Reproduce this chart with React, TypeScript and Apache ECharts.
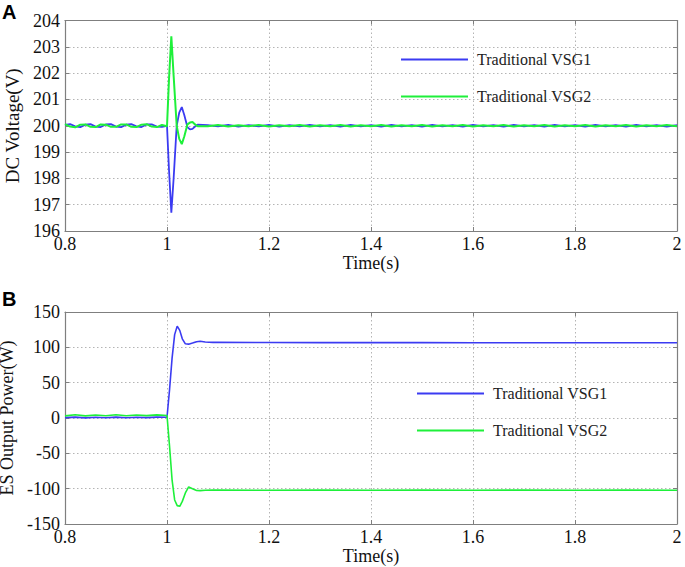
import React, { useEffect, useRef } from "react";
import * as echarts from "echarts";

// ---------- Panel A: DC voltage ----------
const TIME_A = [
  0.8, 0.81, 0.82, 0.83, 0.84, 0.85, 0.86, 0.87, 0.88, 0.89, 0.9, 0.91, 0.92, 0.93, 0.94, 0.95, 0.96, 0.97, 0.98, 0.99, 1.0,
  1.004, 1.0085, 1.013, 1.019, 1.024, 1.029, 1.034, 1.04, 1.045, 1.05, 1.055, 1.06, 1.07,
  1.08, 1.1, 1.12, 1.14, 1.16, 1.18, 1.2, 1.22, 1.24, 1.26, 1.28, 1.3, 1.32, 1.34, 1.36, 1.38, 1.4, 1.42, 1.44, 1.46,
  1.48, 1.5, 1.52, 1.54, 1.56, 1.58, 1.6, 1.62, 1.64, 1.66, 1.68, 1.7, 1.72, 1.74, 1.76, 1.78, 1.8, 1.82, 1.84, 1.86,
  1.88, 1.9, 1.92, 1.94, 1.96, 1.98, 2.0,
];
const VSG1_A = [
  200.03, 200.06, 199.98, 199.95, 200.04, 200.06, 199.97, 199.95, 200.05, 200.06, 199.97, 199.95, 200.04, 200.06, 199.98, 199.95, 200.05, 200.05, 199.97, 199.96, 200.0,
  198.3, 196.7, 198.0, 200.0, 200.5, 200.71, 200.4, 199.95, 199.86, 199.88, 199.97, 200.04, 200.03,
  200.02, 199.98, 200.03, 199.97, 200.02, 199.98, 200.03, 199.97, 200.02, 199.98, 200.03, 199.98, 200.02, 199.97, 200.03, 199.98, 200.02, 199.97, 200.03, 199.98,
  200.02, 199.97, 200.03, 199.98, 200.02, 199.97, 200.03, 199.98, 200.02, 199.97, 200.03, 199.98, 200.02, 199.97, 200.03, 199.98, 200.02, 199.97, 200.03, 199.98,
  200.02, 199.97, 200.03, 199.98, 200.02, 199.97, 200.02,
];
const VSG2_A = [
  200.06, 199.97, 199.94, 200.04, 200.05, 199.96, 199.95, 200.05, 200.04, 199.96, 199.96, 200.05, 200.05, 199.96, 199.95, 200.04, 200.06, 199.97, 199.95, 200.03, 199.98,
  201.8, 203.4, 201.9, 200.0, 199.5, 199.3, 199.6, 200.05, 200.12, 200.14, 200.05, 199.98, 199.98,
  199.98, 200.03, 199.97, 200.02, 199.98, 200.03, 199.97, 200.02, 199.98, 200.03, 199.97, 200.02, 199.98, 200.03, 199.97, 200.02, 199.98, 200.03, 199.97, 200.02,
  199.98, 200.03, 199.97, 200.02, 199.98, 200.03, 199.97, 200.02, 199.98, 200.03, 199.97, 200.02, 199.98, 200.03, 199.97, 200.02, 199.98, 200.03, 199.97, 200.02,
  199.98, 200.03, 199.97, 200.02, 199.98, 200.03, 199.98,
];

// ---------- Panel B: ES output power ----------
const TIME_B = [
  0.8, 0.82, 0.84, 0.86, 0.88, 0.9, 0.92, 0.94, 0.96, 0.98, 1.0,
  1.005, 1.01, 1.015, 1.02, 1.025, 1.03, 1.036, 1.0425, 1.05, 1.058, 1.065, 1.075, 1.09,
  1.1, 1.2, 1.3, 1.4, 1.5, 1.6, 1.7, 1.8, 1.9, 2.0,
];
const VSG1_B = [
  0.5, 1.2, 0.2, 1.0, 0.4, 1.3, 0.3, 1.1, 0.5, 1.2, 1.0,
  40, 85, 118, 130, 124, 112, 105, 104.5, 106, 108, 108.5, 107.5, 107,
  107, 106.8, 106.7, 106.6, 106.6, 106.5, 106.5, 106.5, 106.4, 106.4,
];
const VSG2_B = [
  3.0, 4.5, 3.0, 4.2, 3.2, 4.6, 3.1, 4.3, 3.4, 4.4, 3.5,
  -40, -88, -116, -124, -125, -118, -106, -97.5, -100, -102.5, -102.8, -102.2, -102,
  -102, -102.3, -102, -102.3, -102, -102.2, -102, -102.3, -102, -102.2,
];

const SERIES_NAMES = ["Traditional VSG1", "Traditional VSG2"];
const COLORS = ["#3b3bf2", "#1ef03a"];

const SERIF = "'Liberation Serif', 'Times New Roman', serif";

function pairs(t: number[], v: number[]) {
  return t.map((x, i) => [x, v[i]]);
}

export default function App() {
  const ref = useRef<HTMLDivElement>(null);

  useEffect(() => {
    if (!ref.current) return;
    const chart = echarts.init(ref.current, undefined, { renderer: "svg" });

    const axisColor = "#7f7f7f";
    const split = {
      show: true,
      lineStyle: { color: "#b4b4b4", type: [1.5, 2.5] as any, width: 1 },
    };
    const labelStyle = { color: "#111", fontFamily: SERIF, fontSize: 18 };

    const mkX = (gridIndex: number, main: boolean) => ({
      type: "value",
      gridIndex,
      min: 0.8,
      max: 2,
      interval: 0.2,
      position: main ? "bottom" : "top",
      axisLine: { show: true, onZero: false, lineStyle: { color: axisColor, width: 1.2 } },
      axisTick: { show: true, inside: true, length: 4, lineStyle: { color: axisColor } },
      axisLabel: main ? { ...labelStyle, margin: 4 } : { show: false },
      splitLine: main ? split : { show: false },
      name: main ? "Time(s)" : "",
      nameLocation: "middle",
      nameGap: 21,
      nameTextStyle: { color: "#111", fontFamily: SERIF, fontSize: 18 },
    });

    const mkY = (
      gridIndex: number,
      main: boolean,
      min: number,
      max: number,
      interval: number,
      name: string,
      nameSize: number,
      nameGap: number
    ) => ({
      type: "value",
      gridIndex,
      min,
      max,
      interval,
      position: main ? "left" : "right",
      axisLine: { show: true, onZero: false, lineStyle: { color: axisColor, width: 1.2 } },
      axisTick: { show: true, inside: true, length: 4, lineStyle: { color: axisColor } },
      axisLabel: main ? { ...labelStyle, margin: 5 } : { show: false },
      splitLine: main ? split : { show: false },
      name: main ? name : "",
      nameLocation: "middle",
      nameGap,
      nameTextStyle: { color: "#111", fontFamily: SERIF, fontSize: nameSize },
    });

    const mkLegend = (left: number, top: number) => ({
      left,
      top,
      orient: "vertical",
      padding: 0,
      itemGap: 20,
      itemWidth: 67,
      itemHeight: 2,
      icon: "rect",
      selectedMode: false,
      data: SERIES_NAMES,
      textStyle: { color: "#222", fontFamily: SERIF, fontSize: 16, lineHeight: 17, padding: [0, 0, 0, 4] },
    });

    const line = (name: string, color: string, xi: number, yi: number, data: number[][], w: number) => ({
      name,
      type: "line",
      xAxisIndex: xi,
      yAxisIndex: yi,
      data,
      showSymbol: false,
      symbol: "none",
      color,
      lineStyle: { color, width: w },
      z: 3,
    });

    chart.setOption({
      animation: false,
      backgroundColor: "#ffffff",
      grid: [
        { left: 65, right: 8, top: 20.5, height: 210.5, containLabel: false, outerBoundsMode: "none" },
        { left: 65, right: 8, top: 312, height: 212, containLabel: false, outerBoundsMode: "none" },
      ],
      xAxis: [mkX(0, true), mkX(0, false), mkX(1, true), mkX(1, false)],
      yAxis: [
        mkY(0, true, 196, 204, 1, "DC Voltage(V)", 19, 41),
        mkY(0, false, 196, 204, 1, "", 19, 41),
        mkY(1, true, -150, 150, 50, "ES Output Power(W)", 18, 38),
        mkY(1, false, -150, 150, 50, "", 18, 38),
      ],
      legend: [mkLegend(401, 51), mkLegend(417, 385)],
      series: [
        line(SERIES_NAMES[0], COLORS[0], 0, 0, pairs(TIME_A, VSG1_A), 1.8),
        line(SERIES_NAMES[1], COLORS[1], 0, 0, pairs(TIME_A, VSG2_A), 2),
        line(SERIES_NAMES[0], COLORS[0], 2, 2, pairs(TIME_B, VSG1_B), 1.6),
        line(SERIES_NAMES[1], COLORS[1], 2, 2, pairs(TIME_B, VSG2_B), 1.6),
      ],
      graphic: [
        {
          type: "text",
          left: 2,
          top: 2,
          style: { text: "A", fontFamily: "'Liberation Sans', Arial, sans-serif", fontWeight: "bold", fontSize: 20, fill: "#000" },
        },
        {
          type: "text",
          left: 2,
          top: 289,
          style: { text: "B", fontFamily: "'Liberation Sans', Arial, sans-serif", fontWeight: "bold", fontSize: 20, fill: "#000" },
        },
      ],
    });

    return () => chart.dispose();
  }, []);

  return (
    <div
      ref={ref}
      style={{ position: "fixed", left: 0, top: 0, width: 685, height: 567, background: "#fff" }}
    />
  );
}
